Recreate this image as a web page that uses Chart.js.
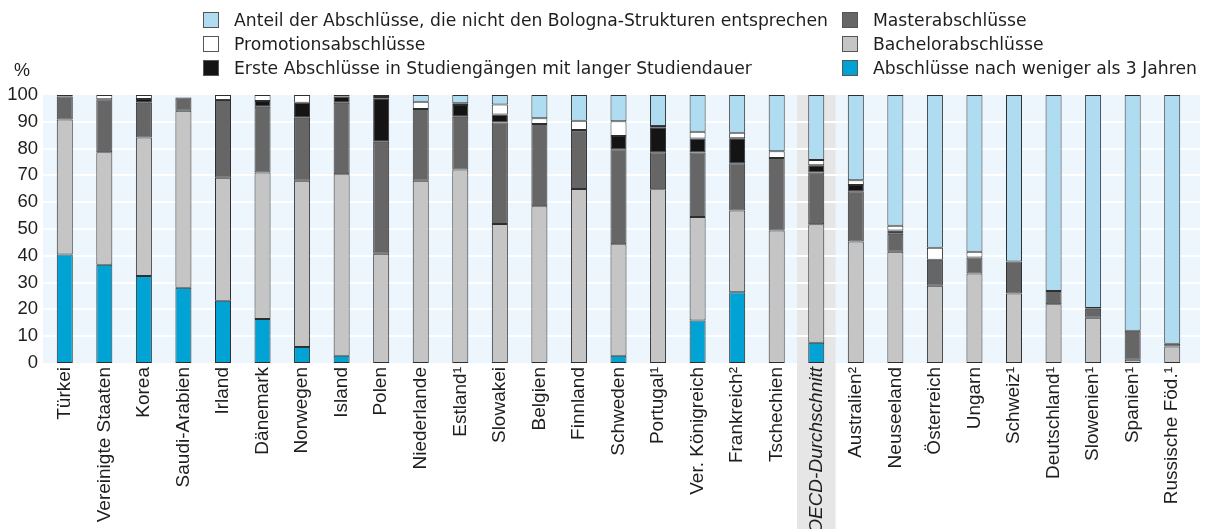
<!DOCTYPE html>
<html>
<head>
<meta charset="utf-8">
<script src="https://cdn.jsdelivr.net/npm/chart.js@4"></script>
<style>
  body { margin: 0; background: #fff; }
  #wrap { position: relative; width: 1205px; height: 529px; overflow: hidden; }
  canvas { position: absolute; left: 0; top: 0; }
  .leg { position: absolute; font-family: "DejaVu Sans", sans-serif; font-size: 17.2px; color: #1e1e1e; white-space: nowrap; line-height: 20px; }
  .leg i { position: absolute; left: -31px; top: 2px; width: 14px; height: 14px; border: 1px solid #555; }
  #pct { position: absolute; left: 14px; top: 60px; font-family: "Liberation Sans", sans-serif; font-size: 18px; color: #1e1e1e; }
</style>
</head>
<body>
<div id="wrap">
  <canvas id="c" width="1205" height="529"></canvas>
  <div id="legend"></div>
  <div id="pct">%</div>
</div>
<script>
// ─── DATA ─────────────────────────────────────────────────────────────────────
const countries = ['Türkei', 'Vereinigte Staaten', 'Korea', 'Saudi-Arabien', 'Irland', 'Dänemark',
  'Norwegen', 'Island', 'Polen', 'Niederlande', 'Estland¹', 'Slowakei', 'Belgien', 'Finnland',
  'Schweden', 'Portugal¹', 'Ver. Königreich', 'Frankreich²', 'Tschechien', 'OECD-Durchschnitt',
  'Australien²', 'Neuseeland', 'Österreich', 'Ungarn', 'Schweiz¹', 'Deutschland¹', 'Slowenien¹',
  'Spanien¹', 'Russische Föd.¹'];
const oecdIndex = 19;

// stacked bottom to top
const kurz = [40.5, 36.7, 32.5, 28.1, 23.2, 16.4, 6.0, 2.7, null, null, null, null, null, null,
  2.7, null, 15.9, 26.4, null, 7.6, null, null, null, null, null, null, null, null, null];
const bachelor = [50.4, 41.9, 51.6, 66.0, 45.9, 54.7, 62.0, 67.7, 40.8, 68.0, 72.2, 51.9, 58.5, 64.9,
  41.6, 64.8, 38.6, 30.5, 49.4, 44.2, 45.3, 41.5, 28.8, 33.4, 25.9, 21.9, 16.9, 1.2, 6.2];
const master = [8.5, 19.8, 13.0, 5.0, 29.0, 24.5, 23.5, 26.7, 41.8, 26.8, 19.7, 37.8, 30.7, 22.0,
  35.5, 13.8, 24.0, 17.6, 27.1, 19.3, 18.8, 6.7, 9.7, 6.0, 12.0, 5.0, 3.3, 10.8, 1.0];
const langeDauer = [null, null, 1.4, null, null, 2.2, 5.6, 2.3, 16.2, null, 4.4, 3.0, null, null,
  4.9, 9.4, 5.3, 9.4, null, 2.7, 2.3, 1.2, null, null, null, null, 0.3, null, null];
const promotion = [0.6, 1.6, 1.5, null, 1.9, 2.2, 2.9, 0.6, 0.5, 2.7, 0.6, 3.8, 2.1, 3.5,
  5.5, 0.4, 2.5, 2.0, 2.5, 1.9, 1.8, 1.8, 4.5, 2.1, null, null, null, null, null];
const nichtBologna = [null, null, null, null, null, null, null, null, 0.7, 2.5, 3.1, 3.5, 8.7, 9.6,
  9.8, 11.6, 13.7, 14.1, 21.0, 24.3, 31.8, 48.8, 57.0, 58.5, 62.1, 73.1, 79.5, 88.0, 92.8];

const yTicks = [0, 10, 20, 30, 40, 50, 60, 70, 80, 90, 100];

const series = [
  { label: 'Abschlüsse nach weniger als 3 Jahren', data: kurz, color: '#00a3d4' },
  { label: 'Bachelorabschlüsse', data: bachelor, color: '#c4c5c4' },
  { label: 'Masterabschlüsse', data: master, color: '#666666' },
  { label: 'Erste Abschlüsse in Studiengängen mit langer Studiendauer', data: langeDauer, color: '#141414' },
  { label: 'Promotionsabschlüsse', data: promotion, color: '#ffffff' },
  { label: 'Anteil der Abschlüsse, die nicht den Bologna-Strukturen entsprechen', data: nichtBologna, color: '#b0dcf1' }
];

// ─── LEGEND (two columns, three rows) ─────────────────────────────────────────
const legendSlots = [
  [5, 234, 10], [2, 873, 10],
  [4, 234, 34], [1, 873, 34],
  [3, 234, 58], [0, 873, 58]
];
const legendEl = document.getElementById('legend');
legendSlots.forEach(([idx, x, y]) => {
  const d = document.createElement('div');
  d.className = 'leg';
  d.style.left = x + 'px';
  d.style.top = y + 'px';
  d.innerHTML = '<i style="background:' + series[idx].color + '"></i>' + series[idx].label;
  legendEl.appendChild(d);
});

// ─── BACKGROUND, OECD BAND, GRID (painted before axes) ────────────────────────
const backdrop = {
  id: 'backdrop',
  beforeDraw(chart) {
    const { ctx, chartArea: a, scales: { x, y } } = chart;
    const top = y.getPixelForValue(100);
    const bottom = y.getPixelForValue(0);
    const step = x.width / countries.length;
    ctx.save();
    ctx.fillStyle = '#eef6fd';
    ctx.fillRect(a.left - 2, top, a.right - a.left + 10, bottom - top);
    const cx = x.getPixelForValue(oecdIndex);
    ctx.fillStyle = '#e6e6e6';
    ctx.fillRect(cx - step / 2 + 0.5, top, step - 1, chart.height - top);
    ctx.strokeStyle = '#ffffff';
    ctx.lineWidth = 2;
    yTicks.slice(1, -1).forEach(v => {
      const py = Math.round(y.getPixelForValue(v));
      ctx.beginPath();
      ctx.moveTo(a.left - 2, py);
      ctx.lineTo(a.right + 8, py);
      ctx.stroke();
    });
    ctx.restore();
  }
};

const axisFont = { family: '"Liberation Sans", Arial, sans-serif', size: 19 };

new Chart(document.getElementById('c'), {
  type: 'bar',
  data: {
    labels: countries,
    datasets: series.map(s => ({
      label: s.label,
      data: s.data,
      backgroundColor: s.color,
      borderColor: '#2e2e2e',
      borderWidth: 1,
      borderSkipped: false,
      barPercentage: 0.405,
      categoryPercentage: 1
    }))
  },
  options: {
    responsive: false,
    animation: false,
    layout: { padding: { top: 95, right: 13, left: 0, bottom: 0 } },
    plugins: { legend: { display: false }, tooltip: { enabled: false } },
    scales: {
      x: {
        stacked: true,
        grid: { display: false, drawTicks: false },
        border: { display: false },
        ticks: {
          autoSkip: false,
          minRotation: 90,
          maxRotation: 90,
          padding: 4,
          color: '#1e1e1e',
          font: (c) => ({ ...axisFont, style: c.index === oecdIndex ? 'italic' : 'normal' })
        },
        afterFit: (s) => { s.height = 166; }
      },
      y: {
        stacked: true,
        min: 0,
        max: 100,
        grid: { display: false, drawTicks: false },
        border: { display: false },
        ticks: { stepSize: 10, padding: 7, color: '#1e1e1e', font: { ...axisFont, size: 18.5 } },
        afterFit: (s) => { s.width = 45; }
      }
    }
  },
  plugins: [backdrop]
});
</script>
</body>
</html>
